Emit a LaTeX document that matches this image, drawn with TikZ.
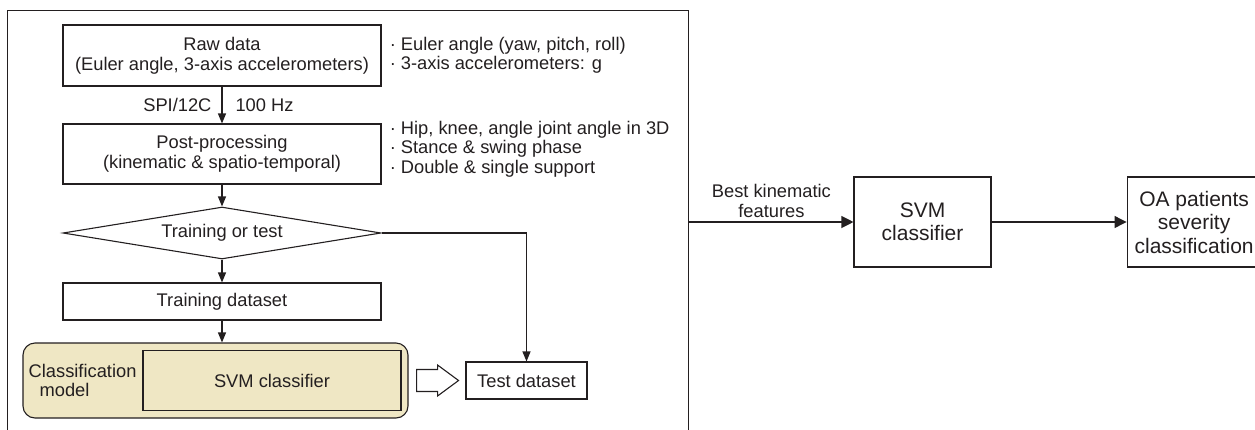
\documentclass[tikz,border=0pt]{standalone}
\usepackage{fontspec}
\setmainfont{Liberation Sans}
\usetikzlibrary{shapes.geometric,arrows.meta,positioning,calc}

\definecolor{ink}{RGB}{35,31,32}
\definecolor{modelfill}{RGB}{239,231,196}

\tikzset{
  box/.style={rectangle, draw=ink, line width=1.1pt, text=ink, align=center, inner sep=2pt, font=\fontsize{18.3}{20}\selectfont},
  bigbox/.style={box, font=\fontsize{21}{23.5}\selectfont},
  note/.style={text=ink, align=left, inner sep=0pt, font=\fontsize{18.3}{19.5}\selectfont},
  flow/.style={draw=ink, line width=1.1pt, -{Triangle[length=10pt,width=8pt]}},
  bigflow/.style={draw=ink, line width=1.1pt, -{Triangle[length=12pt,width=12pt]}}
}

\begin{document}
\begin{tikzpicture}[x=1pt, y=-1pt, node distance=79pt]
\useasboundingbox (0,0) rectangle (1255,429);
% outer frame of the pipeline
\node (frame) [draw=ink, line width=1.3pt, minimum width=681pt, minimum height=430pt, anchor=north west, inner sep=0pt] at (7,10) {};

\node (raw) [box, minimum width=318pt, minimum height=61pt] at (222,55.5) {Raw data\\(Euler angle, 3-axis accelerometers)};
\node (post) [box, minimum width=318pt, minimum height=60pt, below of=raw, yshift=-19.5pt] {Post-processing\\(kinematic \& spatio-temporal)};
\node (choice) [diamond, draw=ink, line width=1.1pt, text=ink, aspect=6, minimum width=318pt, minimum height=52pt, inner sep=0pt, font=\fontsize{18.3}{20}\selectfont, below of=post] {Training or test};
\node (train) [box, minimum width=318pt, minimum height=37pt, below of=choice, yshift=10.5pt] {Training dataset};
\node (model) [box, rounded corners=12pt, fill=modelfill, minimum width=385pt, minimum height=75pt, below of=train, xshift=-6.5pt] {};
\node (svmin) [box, fill=modelfill, minimum width=258pt, minimum height=60pt, anchor=east] at ([xshift=-7pt]model.east) {SVM classifier};
\node (modellabel) [note, right=6pt of model.west] {Classification\\\hspace*{11pt}model};
\node (test) [box, minimum width=121pt, minimum height=37pt, right of=model, xshift=232pt] {Test dataset};

% notes beside the boxes
\node (rawnote) [note, right=8pt of raw] {· Euler angle (yaw, pitch, roll)\\· 3-axis accelerometers: g};
\node (postnote) [note, right=8pt of post, yshift=5pt] {· Hip, knee, angle joint angle in 3D\\· Stance \& swing phase\\· Double \& single support};

\draw [flow] (raw) -- node[note, left=10pt] {SPI/12C} node[note, right=13pt] {100 Hz} (post);
\draw [flow] (post) -- (choice);
\draw [flow] (choice) -- (train);
\draw [flow] (train.south) -- (train.south |- model.north);
\draw [flow] (choice.east) -| (test.north);
\draw [draw=ink, line width=1.1pt, fill=white] ($(model.east)+(8,0)$) -- ++(0,-11) -- ++(21,0) -- ++(0,-4.5) -- ++(21,15.5) -- ++(-21,15.5) -- ++(0,-4.5) -- ++(-21,0) -- cycle;

% classifier on the right
\node (svm) [bigbox, minimum width=137pt, minimum height=90pt] at (922.5,222) {SVM\\classifier};
\node (oa) [bigbox, minimum width=134pt, minimum height=90pt, inner sep=3pt, right=135pt of svm] {OA patients\\severity\\classification};

\draw [bigflow] (frame.east |- svm.west) -- node[note, above=4pt, align=center] {Best kinematic\\features} (svm.west);
\draw [bigflow] (svm) -- (oa);
\end{tikzpicture}
\end{document}
